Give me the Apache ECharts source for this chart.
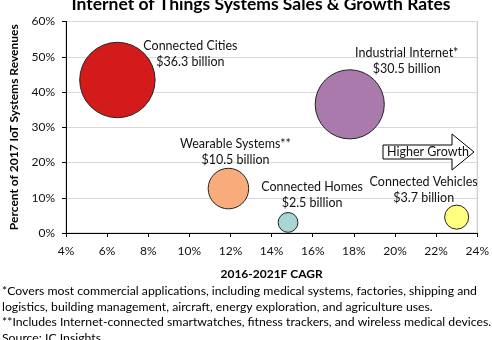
<!DOCTYPE html>
<html><head><meta charset="utf-8">
<script src="https://cdn.jsdelivr.net/npm/echarts@6/dist/echarts.min.js"></script>
<style>html,body{margin:0;padding:0;background:#fff}#c{width:492px;height:340px}</style>
</head><body><div id="c"></div>
<script>
// ---- data ----
const names = ['Connected Cities', 'Industrial Internet*', 'Wearable Systems**', 'Connected Homes', 'Connected Vehicles'];
const cagr = [6.5, 17.8, 11.9, 14.8, 23.0];          // 2016-2021F CAGR (%)
const share = [43.4, 36.5, 12.6, 3.0, 4.5];          // Percent of 2017 IoT systems revenues
const revenue = [36.3, 30.5, 10.5, 2.5, 3.7];        // $ billion (bubble size)
const xTicks = [4, 6, 8, 10, 12, 14, 16, 18, 20, 22, 24];
const yTicks = [0, 10, 20, 30, 40, 50, 60];
const footnotes = [
  '*Covers most commercial applications, including medical systems, factories, shipping and',
  'logistics, building management, aircraft, energy exploration, and agriculture uses.',
  '**Includes Internet-connected smartwatches, fitness trackers, and wireless medical devices.',
  'Source: IC Insights'
];
// ---- styles ----
const colors = ['#D31B1B', '#A97AAB', '#F8AB7B', '#A9D5D5', '#FFFF80'];
const labelOffsets = [[73, -26], [57, -43], [7, -37], [24, -27], [-33, -27]];
const FONT = 'Lato';

const chart = echarts.init(document.getElementById('c'), null, {renderer: 'canvas'});
const data = names.map((n, i) => ({
  name: n,
  value: [cagr[i], share[i], revenue[i]],
  itemStyle: {color: colors[i], borderColor: '#222', borderWidth: 1, opacity: 1},
  label: {
    show: true, position: 'inside', offset: labelOffsets[i],
    formatter: n + '\n$' + revenue[i] + ' billion',
    color: '#111', fontFamily: FONT, fontSize: 12.5, lineHeight: 16, align: 'center'
  }
}));

chart.setOption({
  animation: false,
  textStyle: {fontFamily: FONT},
  title: {
    text: 'Internet of Things Systems Sales & Growth Rates',
    left: 256, textAlign: 'center', top: -10,
    textStyle: {fontFamily: FONT, fontSize: 17.5, fontWeight: 'bold', color: '#000'}
  },
  grid: {left: 57, right: 12, top: 21.5, bottom: 107, show: true, borderColor: '#bfbfbf', borderWidth: 1},
  xAxis: {
    type: 'value', min: xTicks[0], max: xTicks[xTicks.length - 1], interval: 2,
    name: '2016-2021F CAGR', nameLocation: 'middle', nameGap: 35,
    nameTextStyle: {fontFamily: FONT, fontSize: 12, fontWeight: 'bold', color: '#000'},
    axisLine: {show: true, lineStyle: {color: '#000', width: 1}},
    axisTick: {show: true, length: 4, lineStyle: {color: '#000'}},
    axisLabel: {formatter: '{value}%', fontFamily: FONT, fontSize: 12, color: '#111', margin: 12},
    splitLine: {show: false}
  },
  yAxis: {
    type: 'value', min: yTicks[0], max: yTicks[yTicks.length - 1], interval: 10,
    name: 'Percent of 2017 IoT Systems Revenues', nameLocation: 'middle', nameGap: 46,
    nameTextStyle: {fontFamily: FONT, fontSize: 12, fontWeight: 'bold', color: '#000'},
    axisLine: {show: true, lineStyle: {color: '#000', width: 1}},
    axisTick: {show: true, length: 4, lineStyle: {color: '#000'}},
    axisLabel: {formatter: '{value}%', fontFamily: FONT, fontSize: 12, color: '#111', margin: 11},
    splitLine: {show: true, lineStyle: {color: '#d9d9d9', width: 1}}
  },
  series: [{
    type: 'scatter',
    data: data,
    symbolSize: v => 75.4 * Math.sqrt(v[2] / 36.3),
    z: 3
  }],
  graphic: [
    {
      type: 'polygon', z: 10,
      shape: {points: [[383, 145], [452, 145], [452, 134], [474, 152], [452, 170], [452, 159], [383, 159]]},
      style: {fill: '#fff', stroke: '#000', lineWidth: 1}
    },
    {
      type: 'text', z: 11, x: 428, y: 152,
      style: {text: 'Higher Growth', font: '12.5px ' + FONT, fill: '#111', align: 'center', verticalAlign: 'middle'}
    },
    {
      type: 'text', x: 2, y: 283.5,
      style: {text: footnotes.join('\n'), font: '12.25px ' + FONT, fill: '#000', lineHeight: 15.5}
    }
  ]
});
</script></body></html>
